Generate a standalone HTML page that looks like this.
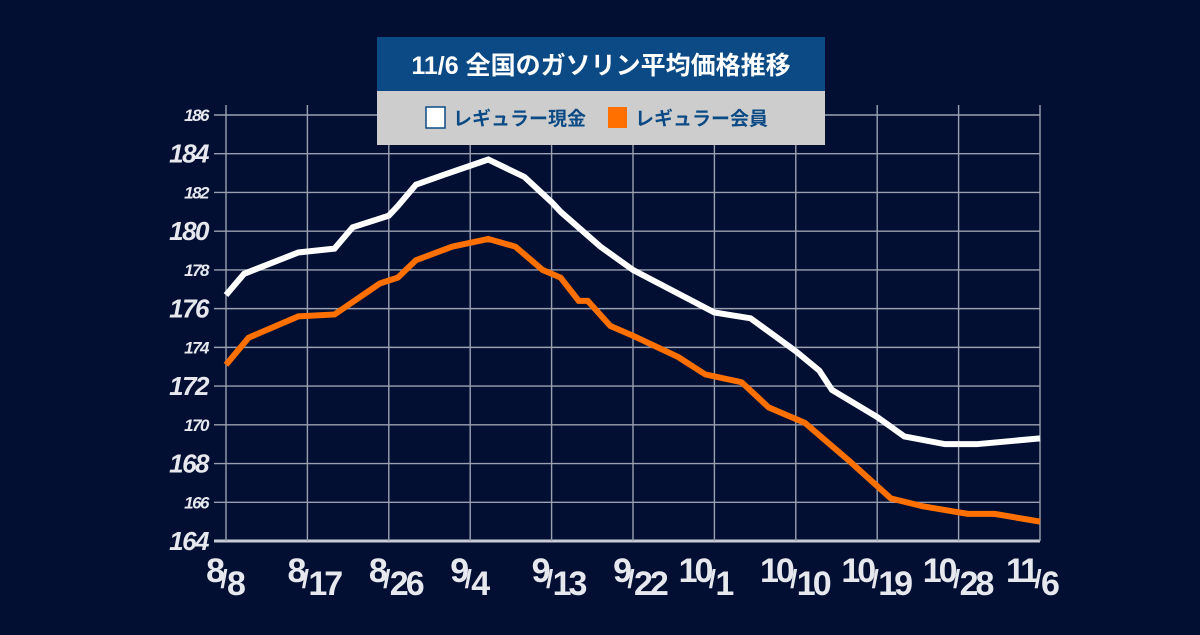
<!DOCTYPE html>
<html><head><meta charset="utf-8"><style>
body{margin:0;background:#020f33;width:1200px;height:630px;overflow:hidden;font-family:"Liberation Sans","Noto Sans CJK JP",sans-serif}
</style></head><body>
<svg width="1200" height="630" xmlns="http://www.w3.org/2000/svg">
<rect width="1200" height="630" fill="#020f33"/>
<g id="grid"></g><g id="ylab"></g><g id="xlab"></g><g id="series"></g>
<g>
<rect x="377" y="37" width="448" height="54" fill="#0b4a85"/>
<text x="601" y="74" text-anchor="middle" fill="#fff" font-size="25" font-weight="bold" font-family="Liberation Sans, Noto Sans CJK JP, sans-serif">11/6 全国のガソリン平均価格推移</text>
<rect x="377" y="91" width="448" height="54" fill="#cdcdcd"/>
<rect x="426" y="107" width="19" height="21" fill="#fff" stroke="#0b4a85" stroke-width="1.5"/>
<text x="453" y="125" fill="#0b4a85" font-size="19" font-weight="bold" font-family="Liberation Sans, Noto Sans CJK JP, sans-serif">レギュラー現金</text>
<rect x="608" y="107" width="19" height="21" fill="#ff7000"/>
<text x="635" y="125" fill="#0b4a85" font-size="19" font-weight="bold" font-family="Liberation Sans, Noto Sans CJK JP, sans-serif">レギュラー会員</text>
</g>
</svg>
<script>
const yTicks=[164,166,168,170,172,174,176,178,180,182,184,186];
const xTickDays=[0,9,18,27,36,45,54,63,72,81,90];
const xTickMonth=["8","8","8","9","9","9","10","10","10","10","11"];
const xTickDay=["8","17","26","4","13","22","1","10","19","28","6"];
const cashDays=[0,2,8,12,14,18,19,21,24,29,33,36,37,41.4,45,54,58,63,65.6,67,72,75,79.5,83,90];
const cashVals=[176.7,177.8,178.9,179.1,180.2,180.8,181.3,182.4,182.9,183.7,182.8,181.5,181.0,179.2,178.0,175.8,175.5,173.8,172.8,171.8,170.4,169.4,169.0,169.0,169.3];
const memDays=[0,2.5,8,12,17,19,21,25,29,32,35,37,39,40,42.5,45,50,53,57,60,64,69,73.5,77,82,85,90];
const memVals=[173.1,174.5,175.6,175.7,177.3,177.6,178.5,179.2,179.6,179.2,178.0,177.6,176.4,176.4,175.1,174.6,173.5,172.6,172.2,170.9,170.1,168.1,166.2,165.8,165.4,165.4,165.0];
const NS="http://www.w3.org/2000/svg";
const X=d=>226+d*(814/90);
const Y=v=>541-(v-164)*(426/22);
function mk(tag,at,parent){const e=document.createElementNS(NS,tag);for(const k in at)e.setAttribute(k,at[k]);parent.appendChild(e);return e;}
const grid=document.getElementById('grid'),yl=document.getElementById('ylab'),xl=document.getElementById('xlab'),ser=document.getElementById('series');
yTicks.forEach((v,i)=>{
 const l=mk('line',{x1:214,x2:1040,y1:Y(v),y2:Y(v),stroke:v===164?'#c8ccd6':'#9aa0b0','stroke-width':v===164?3:1.4},grid);
 
 
 const big=(v%4===0);
 const t=mk('text',{x:208,y:Y(v)+(big?9:6),'text-anchor':'end',fill:'#e6e8ee','font-size':big?26:17,'font-weight':'bold','font-style':'italic','font-family':'Liberation Sans, sans-serif','letter-spacing':'-1.5'},yl);
 t.textContent=v;
 
 
});
xTickDays.forEach((d,i)=>{
 const l=mk('line',{x1:X(d),x2:X(d),y1:105,y2:541,stroke:'#9aa0b0','stroke-width':1.4},grid);
 
 
 const t=mk('text',{x:X(d)-4,y:582,'text-anchor':'end',fill:'#e6e8ee','font-size':34,'font-weight':'bold','font-family':'Liberation Sans, sans-serif','letter-spacing':'-3'},xl);
 t.textContent=xTickMonth[i];
 
 
 const s=mk('text',{x:X(d)-2,y:588,'text-anchor':'middle',fill:'#e6e8ee','font-size':26,'font-weight':'bold','font-family':'Liberation Sans, sans-serif'},xl);
 s.textContent='/';
 
 
 const b=mk('text',{x:X(d)+1,y:595,'text-anchor':'start',fill:'#e6e8ee','font-size':34,'font-weight':'bold','font-family':'Liberation Sans, sans-serif','letter-spacing':'-3'},xl);
 b.textContent=xTickDay[i];
 
 
});
function line(days,vals,color,name){
 const p=mk('polyline',{points:days.map((d,i)=>X(d)+','+Y(vals[i])).join(' '),fill:'none',stroke:color,'stroke-width':6,'stroke-linejoin':'miter'},ser);
 
 
}
line(cashDays,cashVals,'#ffffff','series-cash-line');
line(memDays,memVals,'#ff7000','series-member-line');
</script>
</body></html>
